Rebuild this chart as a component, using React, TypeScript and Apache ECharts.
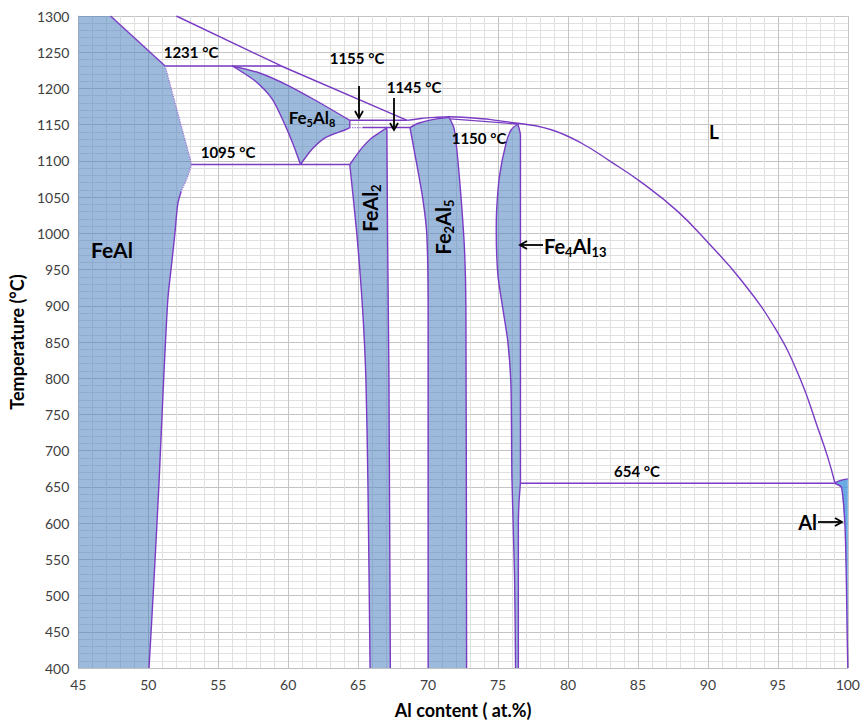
import React, { useEffect, useRef } from "react";
import * as echarts from "echarts";

// ---------- data (Al at.%, Temperature °C) ----------
const feAlLiquidus = [[47.3, 1300], [51.2, 1231]];
const feAlDotUpper = [[51.2, 1231], [53.1, 1095]];
const feAlDotLower = [[53.1, 1095], [52.75, 1075], [52.35, 1058]];
const feAlSolvus = [[52.35, 1058], [52.1, 1040], [51.9, 1000], [51.65, 955], [51.4, 910], [51.1, 800], [50.75, 650], [50.4, 520], [50.05, 400]];

const liquidusLeft = [[52.0, 1300], [59.5, 1231], [68.5, 1156]];
const line1231 = [[51.2, 1231], [59.5, 1231]];
const line1095 = [[53.1, 1095], [64.4, 1095]];

const fe5Al8Upper = [[56.0, 1231], [58.0, 1221], [60.0, 1204], [62.0, 1183], [64.4, 1156]];
const fe5Al8Tip = [[64.4, 1156], [64.4, 1146]];
const fe5Al8LowerRight = [[64.4, 1146], [64.08, 1143], [62.66, 1132], [61.7, 1116], [60.88, 1095]];
const fe5Al8LowerLeft = [[60.88, 1095], [60.41, 1120], [59.81, 1148], [58.87, 1185], [57.66, 1210], [56.0, 1231]];

const line1155 = [[64.4, 1156], [68.5, 1156]];
const line1145Dotted = [[64.4, 1146], [65.3, 1146]];
const line1145 = [[65.3, 1146], [68.7, 1146]];

const feAl2Upper = [[64.4, 1095], [65.27, 1118], [65.98, 1132], [66.69, 1141], [66.9, 1144], [67.05, 1145]];
const feAl2Right = [[67.05, 1145], [67.1, 1000], [67.2, 800], [67.3, 400]];
const feAl2Left = [[64.4, 1095], [64.9, 1000], [65.3, 900], [65.55, 800], [65.7, 650], [65.85, 400]];

const fe2Al5Top = [[68.7, 1146], [69.3, 1152], [70.3, 1157], [71.5, 1160]];
const fe2Al5Right = [[71.5, 1160], [71.85, 1145], [72.05, 1116], [72.35, 1050], [72.6, 978], [72.7, 900], [72.75, 400]];
const fe2Al5Left = [[68.7, 1146], [69.0, 1115], [69.6, 1050], [69.9, 1000], [70.0, 900], [70.0, 400]];

const fe4Al13Left = [[76.41, 1151], [75.94, 1143], [75.58, 1125], [75.1, 1079], [74.9, 1033], [74.87, 1002], [74.99, 942], [75.34, 896], [75.7, 850], [75.92, 790], [75.99, 662], [76.18, 525], [76.25, 400]];
const fe4Al13Right = [[76.41, 1151], [76.6, 1135], [76.6, 660], [76.5, 630], [76.45, 600], [76.45, 400]];

const liquidusMid = [[68.5, 1156], [69.5, 1158.5], [70.5, 1160], [71.5, 1161], [73.0, 1159.5], [74.5, 1157], [76.41, 1152]];
const line1150 = [[71.6, 1158], [76.41, 1151]];
const liquidusRight = [[76.41, 1152], [78.8, 1143], [81.0, 1124], [83.05, 1099], [85.2, 1071], [87.8, 1031], [89.97, 988], [92.31, 937], [94.8, 869], [96.58, 800], [97.86, 731], [98.58, 690], [99.07, 656]];
const line654 = [[76.6, 655], [99.07, 655]];
const alLiquidus = [[99.07, 656], [99.5, 659], [100, 661]];
const alSolvus = [[99.07, 655], [99.55, 649], [99.8, 594], [99.9, 515], [99.95, 450], [100, 400]];

// ---------- styles ----------
const PURPLE = "#7a3cc4";
const FILL = "rgba(74,126,190,0.54)";
const AL_FILL = "rgba(70,150,220,0.8)";
const FONT = "Lato";

const regions = [
  { name: "FeAl", fill: FILL, pts: [[45, 1300], ...feAlLiquidus, ...feAlDotUpper.slice(1), ...feAlDotLower.slice(1), ...feAlSolvus.slice(1), [45, 400]] },
  { name: "Fe5Al8", fill: FILL, pts: [...fe5Al8Upper, ...fe5Al8Tip.slice(1), ...fe5Al8LowerRight.slice(1), ...fe5Al8LowerLeft.slice(1)] },
  { name: "FeAl2", fill: FILL, pts: [...feAl2Upper, ...feAl2Right.slice(1), ...feAl2Left.slice().reverse()] },
  { name: "Fe2Al5", fill: FILL, pts: [...fe2Al5Top, ...fe2Al5Right.slice(1), ...fe2Al5Left.slice().reverse()] },
  { name: "Fe4Al13", fill: FILL, pts: [...fe4Al13Right, ...fe4Al13Left.slice().reverse()] },
  { name: "Al", fill: AL_FILL, pts: [...alLiquidus, ...alSolvus.slice().reverse()] },
];

const straightLines = [feAlLiquidus, liquidusLeft, line1231, line1095, fe5Al8Tip, line1155, line1145, line1150, line654, feAl2Right];
const curvedLines = [
  feAlSolvus, fe5Al8Upper, fe5Al8LowerRight, fe5Al8LowerLeft,
  feAl2Upper, feAl2Left, fe2Al5Top, fe2Al5Right, fe2Al5Left,
  fe4Al13Left, fe4Al13Right, liquidusMid, alLiquidus, alSolvus,
];
const dottedLines = [feAlDotUpper, feAlDotLower, line1145Dotted];

function polySeries(r: any) {
  return {
    type: "custom",
    name: r.name,
    silent: true,
    clip: true,
    z: 1,
    data: r.pts,
    encode: { x: 0, y: 1 },
    renderItem: (params: any, api: any) => {
      if (params.dataIndex !== 0) return null;
      const pts = r.pts.map((p: number[]) => api.coord(p));
      return { type: "polygon", shape: { points: pts }, style: { fill: r.fill, stroke: "none" } };
    },
  };
}

function lineSeries(d: number[][], kind: "straight" | "curved" | "dotted", smoothVal = 0.25) {
  const dotted = kind === "dotted";
  return {
    type: "line",
    data: d,
    symbol: "none",
    silent: true,
    z: 3,
    smooth: kind === "curved" ? smoothVal : false,
    lineStyle: { color: dotted ? "#9b6fd6" : PURPLE, width: dotted ? 1.2 : 1.4, type: dotted ? "dotted" : "solid" },
  };
}

const bold = { fontFamily: FONT, fontWeight: "bold", fill: "#000" };
function txt(x: number, y: number, text: string, size: number) {
  return {
    type: "text", x, y, z: 10,
    style: { ...bold, text, fontSize: size, align: "center", verticalAlign: "middle" },
  };
}
function richTxt(x: number, y: number, text: string, size: number, rot = 0, align = "center") {
  return {
    type: "text", x, y, rotation: rot, z: 10,
    style: {
      text, align, verticalAlign: "middle",
      rich: {
        n: { ...bold, fontSize: size, lineHeight: size + 4 },
        s: { ...bold, fontSize: Math.round(size * 0.65), verticalAlign: "bottom", lineHeight: size + 4 },
      },
    },
  };
}
function arrow(x1: number, y1: number, x2: number, y2: number) {
  const ang = Math.atan2(y2 - y1, x2 - x1);
  const L = 7, W = 4;
  const bx = x2 - L * Math.cos(ang), by = y2 - L * Math.sin(ang);
  const nx = -Math.sin(ang) * W, ny = Math.cos(ang) * W;
  return [
    { type: "line", z: 10, shape: { x1, y1, x2, y2 }, style: { stroke: "#000", lineWidth: 1.8 } },
    { type: "polyline", z: 10, shape: { points: [[bx + nx, by + ny], [x2, y2], [bx - nx, by - ny]] }, style: { stroke: "#000", lineWidth: 1.8, fill: "none" } },
  ];
}

export default function App() {
  const ref = useRef<HTMLDivElement>(null);
  useEffect(() => {
    document.body.style.margin = "0";
    const chart = echarts.init(ref.current!, null, { renderer: "svg" });
    const axisCommon = {
      axisTick: { show: false },
      axisLabel: { fontFamily: FONT, fontSize: 14, color: "#404040", margin: 9, formatter: (v: number) => String(v) },
      splitLine: { show: true, lineStyle: { color: "#c4c4c4", width: 1 } },
      minorTick: { show: false, splitNumber: 5 },
      minorSplitLine: { show: true, lineStyle: { color: "#e0e0e0", width: 1 } },
      nameTextStyle: { fontFamily: FONT, fontWeight: "bold", fontSize: 18, color: "#000" },
    };
    const option: any = {
      animation: false,
      backgroundColor: "#fff",
      grid: { left: 75, right: 14, top: 16, bottom: 53 },
      xAxis: {
        type: "value", min: 45, max: 100, interval: 5,
        name: "Al content ( at.%)", nameLocation: "middle", nameGap: 33,
        axisLine: { show: true, onZero: false, lineStyle: { color: "#bfbfbf" } },
        ...axisCommon,
      },
      yAxis: {
        type: "value", min: 400, max: 1300, interval: 50,
        name: "Temperature (°C)", nameLocation: "middle", nameGap: 48, nameRotate: 90,
        axisLine: { show: true, lineStyle: { color: "#bfbfbf" } },
        ...axisCommon,
      },
      series: [
        ...regions.map(polySeries),
        ...straightLines.map((d) => lineSeries(d, "straight")),
        ...curvedLines.map((d) => lineSeries(d, "curved")),
        lineSeries(liquidusRight, "curved", 0.45),
        ...dottedLines.map((d) => lineSeries(d, "dotted")),
      ],
      graphic: [
        txt(191, 52, "1231 °C", 15),
        txt(228, 152, "1095 °C", 15),
        txt(357, 58, "1155 °C", 15),
        txt(414, 87, "1145 °C", 15),
        txt(479, 138, "1150 °C", 15),
        txt(637, 471, "654 °C", 15),
        txt(714, 131, "L", 19),
        txt(112, 249, "FeAl", 21),
        richTxt(312, 117, "{n|Fe}{s|5}{n|Al}{s|8}", 17),
        richTxt(370, 208, "{n|FeAl}{s|2}", 20, Math.PI / 2),
        richTxt(443, 227, "{n|Fe}{s|2}{n|Al}{s|5}", 20, Math.PI / 2),
        richTxt(544, 246, "{n|Fe}{s|4}{n|Al}{s|13}", 20, 0, "left"),
        ...arrow(543, 245, 520, 245),
        { type: "text", x: 817, y: 522, z: 10, style: { ...bold, text: "Al", fontSize: 20, align: "right", verticalAlign: "middle" } },
        ...arrow(818, 522, 842, 522),
        ...arrow(359, 86, 359, 118),
        ...arrow(394, 98, 394, 130),
      ],
    };
    chart.setOption(option);
    return () => chart.dispose();
  }, []);
  return <div ref={ref} style={{ width: 863, height: 724 }} />;
}
